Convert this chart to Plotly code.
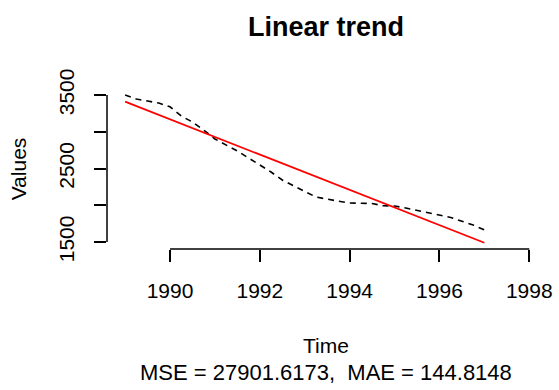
import plotly.graph_objects as go

# ---- data ----
time = [1989.0, 1989.25, 1989.5, 1989.75, 1990.0, 1990.25, 1990.5, 1990.75,
        1991.0, 1991.25, 1991.5, 1991.75, 1992.0, 1992.25, 1992.5, 1992.75,
        1993.0, 1993.25, 1993.5, 1993.75, 1994.0, 1994.25, 1994.5, 1994.75,
        1995.0, 1995.25, 1995.5, 1995.75, 1996.0, 1996.25, 1996.5, 1996.75,
        1997.0]
values = [3500, 3446, 3418, 3391, 3340, 3214, 3133, 3024,
          2902, 2820, 2738, 2643, 2548, 2453, 2344, 2262,
          2188, 2113, 2082, 2055, 2031, 2027, 2024, 1993,
          1990, 1963, 1932, 1899, 1868, 1834, 1782, 1732,
          1664]
trend_time = [1989.0, 1997.0]
trend_values = [3409, 1490]

x_ticks = [1990, 1992, 1994, 1996, 1998]
y_ticks = [1500, 2000, 2500, 3000, 3500]
y_ticklabels = ["1500", "", "2500", "", "3500"]

title_text = "Linear trend"
x_title = "Time"
y_title = "Values"
sub_text = "MSE = 27901.6173,  MAE = 144.8148"

FONT = "Liberation Sans, Arial, sans-serif"

fig = go.Figure()
fig.add_trace(go.Scatter(x=time, y=values, mode="lines",
                         line=dict(color="black", width=1.6, dash="6px,5px"),
                         showlegend=False, hoverinfo="skip"))
fig.add_trace(go.Scatter(x=trend_time, y=trend_values, mode="lines",
                         line=dict(color="#ff0000", width=1.8),
                         showlegend=False, hoverinfo="skip"))

# R-style axis lines spanning first to last tick only
fig.add_shape(type="line", xref="x", yref="paper",
              x0=min(x_ticks), x1=max(x_ticks), y0=0, y1=0,
              line=dict(color="black", width=1.5))
fig.add_shape(type="line", xref="paper", yref="y",
              x0=0, x1=0, y0=min(y_ticks), y1=max(y_ticks),
              line=dict(color="black", width=1.5))

fig.update_layout(
    width=559, height=390,
    margin=dict(l=107, r=7, t=89, b=141),
    paper_bgcolor="white", plot_bgcolor="white",
    font=dict(family=FONT, size=21, color="black"),
    title=dict(text="<b>" + title_text + "</b>", x=0.5, xref="paper",
               y=1 - 27 / 390, yref="container", xanchor="center",
               yanchor="middle", font=dict(family=FONT, size=27, color="black")),
    xaxis=dict(range=[1988.597, 1998.35], tickmode="array", tickvals=x_ticks,
               ticks="outside", ticklen=12, tickwidth=1.5, tickcolor="black",
               showgrid=False, zeroline=False, showline=False,
               ticklabelstandoff=11, ticklabeloverflow="allow",
               title=dict(text=x_title, standoff=37, font=dict(size=21))),
    yaxis=dict(range=[1405, 3582], tickmode="array", tickvals=y_ticks,
               ticktext=y_ticklabels, tickangle=-90,
               ticks="outside", ticklen=12, tickwidth=1.5, tickcolor="black",
               showgrid=False, zeroline=False, showline=False,
               ticklabelstandoff=12, ticklabeloverflow="allow",
               title=dict(text=y_title, standoff=22, font=dict(size=21))),
)

fig.add_annotation(text=sub_text, xref="paper", yref="paper", x=0.5, y=0,
                   xanchor="center", yanchor="middle", yshift=-(372 - 249),
                   showarrow=False, font=dict(family=FONT, size=22, color="black"))

fig.write_html("out.html")
